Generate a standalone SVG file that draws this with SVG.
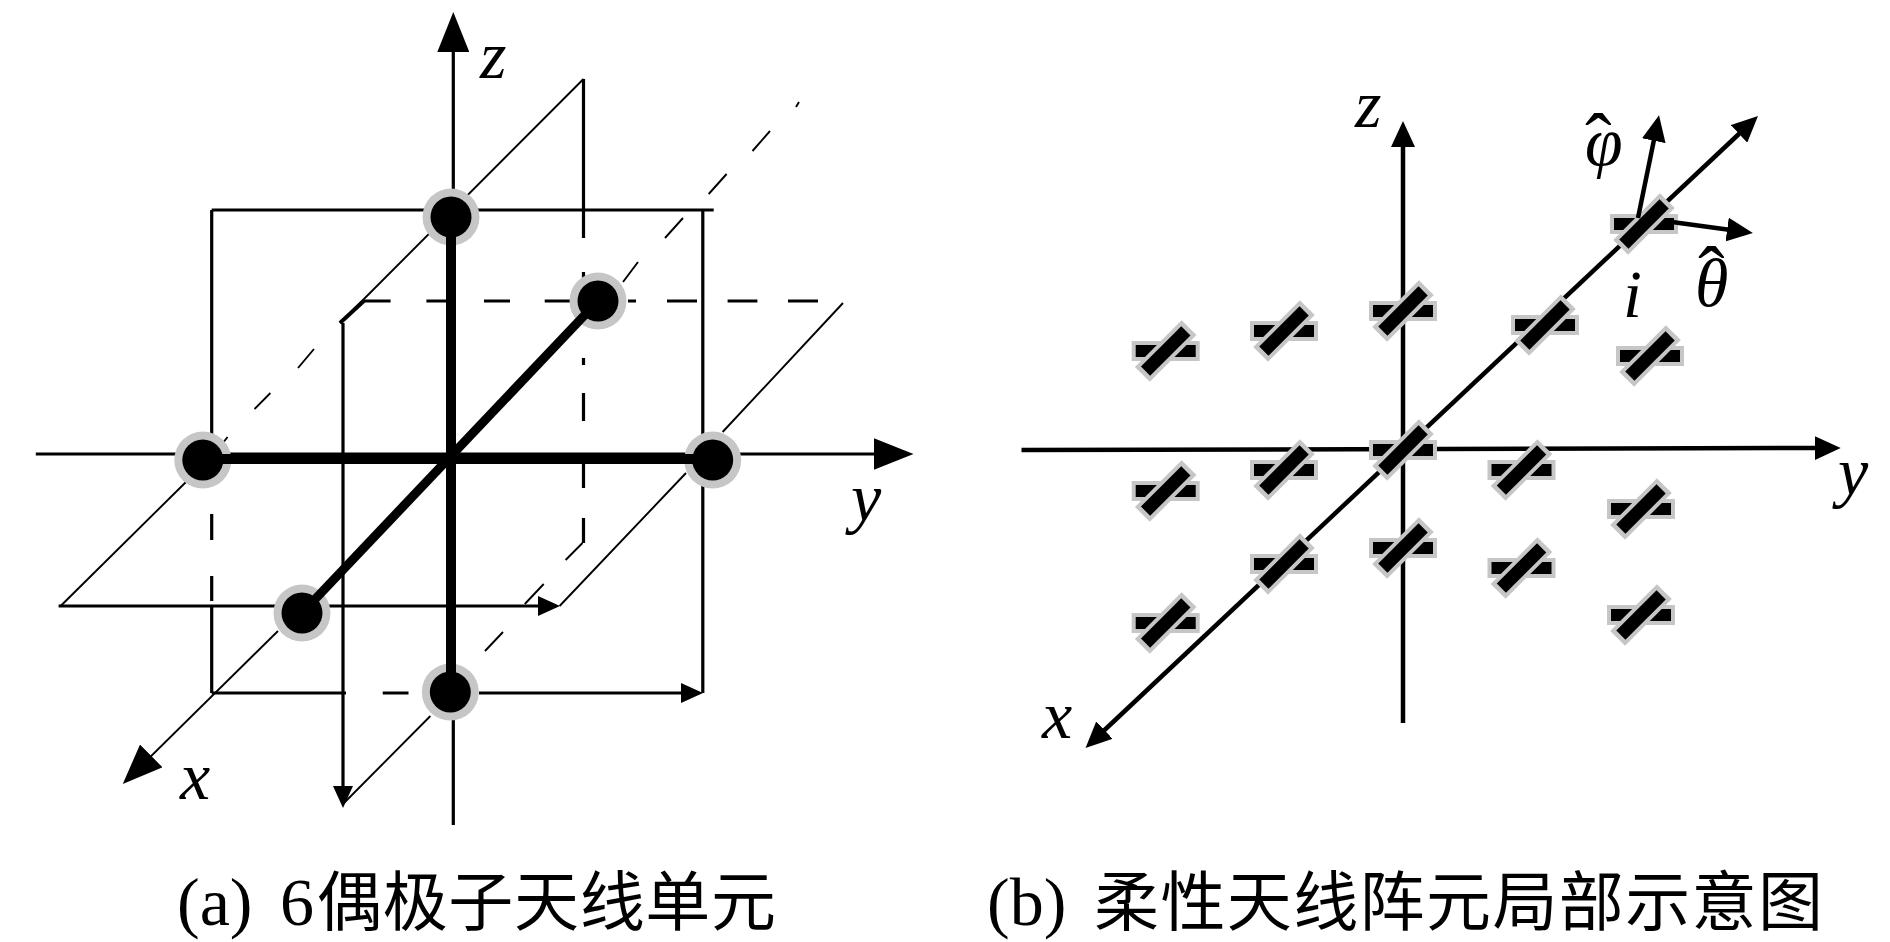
<svg xmlns="http://www.w3.org/2000/svg" xmlns:xlink="http://www.w3.org/1999/xlink" width="1890" height="942" viewBox="0 0 1890 942">
<style>
.line{fill:none;stroke:#000;stroke-linecap:butt}
.thin{stroke-width:3.2}
.hair{stroke-width:1.9}
.dip{stroke-width:10}
.axis{stroke-width:4.5}
.ring{fill:#c6c6c6}
.dot{fill:#000}
.g{fill:#c6c6c6}
.b{fill:#000}
text{fill:#000}
.m{font-family:"Liberation Serif",serif;font-style:italic;font-size:68px}
.h{font-family:"Liberation Serif",serif;font-style:normal;font-size:80px}
.c{font-family:"Liberation Serif","Noto Sans CJK SC",serif;font-size:68px}
.cj{font-family:"Noto Sans CJK SC","Liberation Serif",sans-serif;font-size:65px}
</style>
<defs>
<marker id="hL" markerUnits="userSpaceOnUse" markerWidth="40" markerHeight="32" viewBox="0 0 40 32" refX="20" refY="16" orient="auto-start-reverse"><path d="M0 0L40 16L0 32Z" fill="#000"/></marker>
<marker id="hS" markerUnits="userSpaceOnUse" markerWidth="22" markerHeight="20" viewBox="0 0 22 20" refX="11" refY="10" orient="auto-start-reverse"><path d="M0 0L22 10L0 20Z" fill="#000"/></marker>
<marker id="hR" markerUnits="userSpaceOnUse" markerWidth="26" markerHeight="24" viewBox="0 0 26 24" refX="13" refY="12" orient="auto-start-reverse"><path d="M0 0L26 12L0 24Z" fill="#000"/></marker>
<g id="el">
<rect class="g" x="-34" y="-10" width="68" height="20"/>
<rect class="b" x="-30" y="-6" width="60" height="12"/>
<rect class="g" x="-33" y="-10.500" width="66" height="21" transform="rotate(-45)"/>
<rect class="b" x="-28.500" y="-6.500" width="57" height="13" transform="rotate(-45)"/>
</g>
</defs>
<rect width="1890" height="942" fill="#fff"/>
<g id="connectors-a">
<path class="line thin" d="M453.300 825V32" marker-end="url(#hL)"/>
<path class="line thin" d="M35.800 454H893.500" marker-end="url(#hL)"/>
<path class="line thin" d="M211.700 210H713.700M702.800 210V693M211.700 210V436M211.700 514V540M211.700 576V601M211.700 606V693M211.700 693H346M382.700 693H408.500"/>
<path class="line thin" d="M479 693H692" marker-end="url(#hS)"/>
<path class="line thin" d="M58.600 606H549" marker-end="url(#hS)"/>
<path class="line thin" d="M343 323V797" marker-end="url(#hS)"/>
<path class="line thin" d="M363.800 301H390.600M426.400 301H448.300M484 301H510M544.700 301H571.600M628 301H636M667 301H697M727.600 301H757.400M788 301H818"/>
<path class="line thin" d="M583.500 79V238M583.500 272V290M583.500 358V365M583.500 393V421M583.500 454V488M583.500 518V543"/>
<path class="line hair" d="M583.500 79L340 323M843 303L722.600 432M686 473L559.600 606M187 481L60.600 606M227.600 437L223.600 442M270.400 393L254.500 409M314 349L298 368"/>
<path class="line hair" d="M582.500 543L565.600 560M543.700 584L524.800 604M503 632L485 651M430.400 716L343 804"/>
<path class="line hair" d="M638 262L623 282M683 218L665 238M726.600 174L708.700 194M770 131L752.500 151M799 102L796 107"/>
<path class="line hair" d="M278 631L137 770" marker-end="url(#hL)"/>
<path class="line" stroke-width="4" d="M340 323L363.800 301"/>
</g>
<g id="dot-top"><circle class="ring" cx="451" cy="217" r="28.500"/><circle class="dot" cx="451" cy="217" r="20.500"/></g>
<g id="dot-left"><circle class="ring" cx="202.800" cy="460" r="28.500"/><circle class="dot" cx="202.800" cy="460" r="20.500"/></g>
<g id="dot-right"><circle class="ring" cx="712.700" cy="460" r="28.500"/><circle class="dot" cx="712.700" cy="460" r="20.500"/></g>
<g id="dot-back"><circle class="ring" cx="598" cy="301" r="28.500"/><circle class="dot" cx="598" cy="301" r="20.500"/></g>
<g id="dot-front"><circle class="ring" cx="302" cy="613" r="28.500"/><circle class="dot" cx="302" cy="613" r="20.500"/></g>
<g id="dot-bottom"><circle class="ring" cx="450.300" cy="692" r="28.500"/><circle class="dot" cx="450.300" cy="692" r="20.500"/></g>
<g id="dipoles">
<path class="line dip" d="M451 217V692M202.800 459H712.700"/>
<path class="line dip" style="stroke-width:9" d="M598 301L302 613"/>
</g>
<g id="connectors-b">
<path class="line axis" d="M1403 723V134" marker-end="url(#hR)"/>
<path class="line axis" d="M1021.500 450L1827.700 448" marker-end="url(#hR)"/>
<path class="line axis" d="M1748.500 125L1095 739" marker-end="url(#hR)" marker-start="url(#hR)"/>
</g>
<g id="elements">
<g id="e1"><use xlink:href="#el" x="1165.700" y="351"/></g>
<g id="e2"><use xlink:href="#el" x="1284" y="331"/></g>
<g id="e3"><use xlink:href="#el" x="1403" y="311"/></g>
<g id="e4"><use xlink:href="#el" x="1545" y="325"/></g>
<g id="e5"><use xlink:href="#el" x="1650" y="356"/></g>
<g id="e6"><use xlink:href="#el" x="1644" y="224"/></g>
<g id="e7"><use xlink:href="#el" x="1403" y="450"/></g>
<g id="e8"><use xlink:href="#el" x="1284" y="470"/></g>
<g id="e9"><use xlink:href="#el" x="1521.500" y="470"/></g>
<g id="e10"><use xlink:href="#el" x="1165.700" y="491"/></g>
<g id="e11"><use xlink:href="#el" x="1641" y="509"/></g>
<g id="e12"><use xlink:href="#el" x="1403" y="548"/></g>
<g id="e13"><use xlink:href="#el" x="1284" y="564"/></g>
<g id="e14"><use xlink:href="#el" x="1521.500" y="568"/></g>
<g id="e15"><use xlink:href="#el" x="1165.700" y="623"/></g>
<g id="e16"><use xlink:href="#el" x="1641" y="615"/></g>
</g>
<g id="connectors-c">
<path class="line axis" d="M1638 218L1656.400 128" marker-end="url(#hR)"/>
<path class="line axis" d="M1672 222L1740 231.300" marker-end="url(#hR)"/>
</g>
<g id="labels">
<text class="m" x="480" y="78">z</text>
<text class="m" x="851" y="521">y</text>
<text class="m" x="180" y="799">x</text>
<text class="m" x="1355" y="127">z</text>
<text class="m" x="1042" y="738">x</text>
<text class="m" x="1838" y="495">y</text>
<text class="m" x="1623" y="317">i</text>
<text class="m" x="1695" y="306">θ<tspan class="h" x="1698" y="302">ˆ</tspan></text>
<text class="m" x="1585" y="165">φ<tspan class="h" x="1585" y="169">ˆ</tspan></text>
<text class="c" y="925" x="177">(a)<tspan x="280">6</tspan><tspan class="cj" x="317" textLength="459" lengthAdjust="spacing">偶极子天线单元</tspan></text>
<text class="c" y="925" x="987">(b)<tspan class="cj" x="1094" textLength="729" lengthAdjust="spacing">柔性天线阵元局部示意图</tspan></text>
</g>
</svg>
